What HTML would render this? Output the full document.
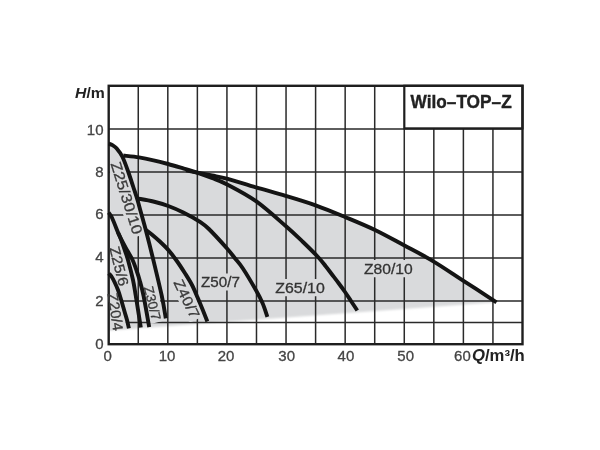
<!DOCTYPE html>
<html lang="en"><head><meta charset="utf-8"><title>Wilo-TOP-Z</title>
<style>html,body{margin:0;padding:0;background:#fff}body{width:600px;height:450px;overflow:hidden}svg{display:block;filter:blur(0.45px)}text{font-family:"Liberation Sans",sans-serif}</style>
</head><body>
<svg width="600" height="450" viewBox="0 0 600 450">
<rect width="600" height="450" fill="#fff"/>
<filter id="bl" x="-5%" y="-5%" width="110%" height="110%"><feGaussianBlur stdDeviation="0.9"/></filter>
<path d="M108.70 143.60 C109.33 143.87 111.20 144.42 112.50 145.20 C113.80 145.98 114.83 146.33 116.50 148.30 C118.17 150.27 121.37 155.80 122.50 157.00 C123.63 158.20 123.17 155.75 123.30 155.50 C125.92 155.82 133.97 156.60 139.00 157.40 C144.03 158.20 148.67 159.20 153.50 160.30 C158.33 161.40 163.17 162.68 168.00 164.00 C172.83 165.32 177.67 166.77 182.50 168.20 C187.33 169.63 192.08 171.38 197.00 172.60 C201.92 173.82 206.87 174.47 212.00 175.50 C217.13 176.53 220.47 176.82 227.80 178.80 C235.13 180.78 246.37 184.57 256.00 187.40 C265.63 190.23 275.67 192.82 285.60 195.80 C295.53 198.78 305.70 201.77 315.60 205.30 C325.50 208.83 335.10 212.88 345.00 217.00 C354.90 221.12 365.17 225.28 375.00 230.00 C384.83 234.72 394.28 240.08 404.00 245.30 C413.72 250.52 423.52 255.47 433.30 261.30 C443.08 267.13 452.17 273.47 462.70 280.30 C473.23 287.13 490.87 298.63 496.50 302.30 L108.7 330.4 Z" fill="#d9dadc" filter="url(#bl)"/>
<path d="M138.26 86.0 V344 M167.81 86.0 V344 M197.37 86.0 V344 M226.93 86.0 V344 M256.49 86.0 V344 M286.04 86.0 V344 M315.60 86.0 V344 M345.16 86.0 V344 M374.71 86.0 V344 M404.27 129.0 V344 M433.83 129.0 V344 M463.39 129.0 V344 M492.94 129.0 V344 M108.7 322.50 H522.5 M108.7 301.00 H522.5 M108.7 258.00 H522.5 M108.7 215.00 H522.5 M108.7 172.00 H522.5 M108.7 129.00 H522.5" stroke="#2a2a2a" stroke-width="1.5" fill="none"/>
<rect x="404.3" y="85.8" width="118.2" height="42.6" fill="#fff" stroke="#1e1e1e" stroke-width="2.2"/>
<clipPath id="pc"><path d="M108.70 143.60 C109.33 143.87 111.20 144.42 112.50 145.20 C113.80 145.98 114.83 146.33 116.50 148.30 C118.17 150.27 121.37 155.80 122.50 157.00 C123.63 158.20 123.17 155.75 123.30 155.50 C125.92 155.82 133.97 156.60 139.00 157.40 C144.03 158.20 148.67 159.20 153.50 160.30 C158.33 161.40 163.17 162.68 168.00 164.00 C172.83 165.32 177.67 166.77 182.50 168.20 C187.33 169.63 192.08 171.38 197.00 172.60 C201.92 173.82 206.87 174.47 212.00 175.50 C217.13 176.53 220.47 176.82 227.80 178.80 C235.13 180.78 246.37 184.57 256.00 187.40 C265.63 190.23 275.67 192.82 285.60 195.80 C295.53 198.78 305.70 201.77 315.60 205.30 C325.50 208.83 335.10 212.88 345.00 217.00 C354.90 221.12 365.17 225.28 375.00 230.00 C384.83 234.72 394.28 240.08 404.00 245.30 C413.72 250.52 423.52 255.47 433.30 261.30 C443.08 267.13 452.17 273.47 462.70 280.30 C473.23 287.13 490.87 298.63 496.50 302.30 L108.7 330.4 Z"/></clipPath><g clip-path="url(#pc)">
<rect transform="translate(110.41 163.75) rotate(72.4)" x="-2.5" y="-13.8" width="80.0" height="17.0" rx="3.5" fill="#d9dadc"/>
<rect transform="translate(109.17 248.06) rotate(75.4)" x="-2.5" y="-13.6" width="45.2" height="16.8" rx="3.5" fill="#d9dadc"/>
<rect transform="translate(107.46 293.82) rotate(81.0)" x="-2.5" y="-13.6" width="43.1" height="16.8" rx="3.5" fill="#d9dadc"/>
<rect transform="translate(143.65 287.42) rotate(76.2)" x="-2.5" y="-12.8" width="39.7" height="16.0" rx="3.5" fill="#d9dadc"/>
<rect transform="translate(173.19 282.55) rotate(64.2)" x="-2.5" y="-13.6" width="46.0" height="16.8" rx="3.5" fill="#d9dadc"/>
<rect transform="translate(201.10 287.40) rotate(0.0)" x="-2.5" y="-13.9" width="43.8" height="17.1" rx="3.5" fill="#d9dadc"/>
<rect transform="translate(275.30 293.00) rotate(0.0)" x="-2.5" y="-13.9" width="54.5" height="17.1" rx="3.5" fill="#d9dadc"/>
<rect transform="translate(364.00 274.00) rotate(0.0)" x="-2.5" y="-13.9" width="53.7" height="17.1" rx="3.5" fill="#d9dadc"/>
</g>
<rect x="108.7" y="85.8" width="413.8" height="258.4" fill="none" stroke="#1e1e1e" stroke-width="2.4"/>
<path d="M108.70 143.60 C109.33 143.87 111.20 144.42 112.50 145.20 C113.80 145.98 114.83 146.33 116.50 148.30 C118.17 150.27 120.53 153.05 122.50 157.00 C124.47 160.95 126.50 167.00 128.30 172.00 C130.10 177.00 131.77 182.33 133.30 187.00 C134.83 191.67 136.25 195.83 137.50 200.00 C138.75 204.17 139.33 206.67 140.80 212.00 C142.27 217.33 144.33 224.50 146.30 232.00 C148.27 239.50 150.02 246.33 152.60 257.00 C155.18 267.67 159.60 285.77 161.80 296.00 C164.00 306.23 165.13 314.67 165.80 318.40" fill="none" stroke="#141414" stroke-width="3.9" stroke-linecap="butt" stroke-linejoin="round"/>
<path d="M186.00 170.40 C187.93 170.78 193.27 171.85 197.60 172.70 C201.93 173.55 206.97 174.48 212.00 175.50 C217.03 176.52 220.47 176.82 227.80 178.80 C235.13 180.78 246.37 184.57 256.00 187.40 C265.63 190.23 275.67 192.82 285.60 195.80 C295.53 198.78 305.70 201.77 315.60 205.30 C325.50 208.83 335.10 212.88 345.00 217.00 C354.90 221.12 365.17 225.28 375.00 230.00 C384.83 234.72 394.28 240.08 404.00 245.30 C413.72 250.52 423.52 255.47 433.30 261.30 C443.08 267.13 452.17 273.47 462.70 280.30 C473.23 287.13 490.87 298.63 496.50 302.30" fill="none" stroke="#141414" stroke-width="3.9" stroke-linecap="butt" stroke-linejoin="round"/>
<path d="M123.30 155.50 C125.92 155.82 133.97 156.60 139.00 157.40 C144.03 158.20 148.67 159.20 153.50 160.30 C158.33 161.40 163.17 162.68 168.00 164.00 C172.83 165.32 177.67 166.77 182.50 168.20 C187.33 169.63 192.12 170.97 197.00 172.60 C201.88 174.23 206.87 176.07 211.80 178.00 C216.73 179.93 219.23 180.33 226.60 184.20 C233.97 188.07 246.10 194.18 256.00 201.20 C265.90 208.22 278.17 219.50 286.00 226.30 C293.83 233.10 297.67 236.88 303.00 242.00 C308.33 247.12 314.25 253.00 318.00 257.00 C321.75 261.00 323.17 263.08 325.50 266.00 C327.83 268.92 329.83 271.67 332.00 274.50 C334.17 277.33 336.38 280.17 338.50 283.00 C340.62 285.83 342.62 288.50 344.70 291.50 C346.78 294.50 348.90 297.83 351.00 301.00 C353.10 304.17 356.25 308.92 357.30 310.50" fill="none" stroke="#141414" stroke-width="3.9" stroke-linecap="butt" stroke-linejoin="round"/>
<path d="M137.50 198.50 C140.13 199.00 148.17 200.25 153.30 201.50 C158.43 202.75 163.30 204.17 168.30 206.00 C173.30 207.83 178.02 209.87 183.30 212.50 C188.58 215.13 195.73 219.05 200.00 221.80 C204.27 224.55 204.47 224.63 208.90 229.00 C213.33 233.37 222.30 243.17 226.60 248.00 C230.90 252.83 231.98 254.58 234.70 258.00 C237.42 261.42 239.35 263.12 242.90 268.50 C246.45 273.88 252.73 284.55 256.00 290.30 C259.27 296.05 260.60 298.58 262.50 303.00 C264.40 307.42 266.58 314.50 267.40 316.80" fill="none" stroke="#141414" stroke-width="3.9" stroke-linecap="butt" stroke-linejoin="round"/>
<path d="M146.00 230.00 C147.17 230.92 150.60 233.50 153.00 235.50 C155.40 237.50 157.90 239.65 160.40 242.00 C162.90 244.35 165.32 246.52 168.00 249.60 C170.68 252.68 173.67 256.55 176.50 260.50 C179.33 264.45 182.42 269.22 185.00 273.30 C187.58 277.38 189.90 280.97 192.00 285.00 C194.10 289.03 195.77 293.25 197.60 297.50 C199.43 301.75 201.38 306.50 203.00 310.50 C204.62 314.50 206.58 319.67 207.30 321.50" fill="none" stroke="#141414" stroke-width="3.9" stroke-linecap="butt" stroke-linejoin="round"/>
<path d="M108.70 212.60 C109.25 213.47 110.45 214.48 112.00 217.80 C113.55 221.12 116.40 228.63 118.00 232.50 C119.60 236.37 120.43 237.92 121.60 241.00 C122.77 244.08 123.93 247.83 125.00 251.00 C126.07 254.17 126.67 255.17 128.00 260.00 C129.33 264.83 131.70 274.00 133.00 280.00 C134.30 286.00 134.50 288.08 135.80 296.00 C137.10 303.92 139.97 322.25 140.80 327.50" fill="none" stroke="#141414" stroke-width="3.9" stroke-linecap="butt" stroke-linejoin="round"/>
<path d="M118.00 232.50 C118.77 234.08 121.00 238.92 122.60 242.00 C124.20 245.08 125.93 248.00 127.60 251.00 C129.27 254.00 131.13 256.83 132.60 260.00 C134.07 263.17 135.23 266.67 136.40 270.00 C137.57 273.33 138.40 275.67 139.60 280.00 C140.80 284.33 142.00 288.13 143.60 296.00 C145.20 303.87 148.27 322.00 149.20 327.20" fill="none" stroke="#141414" stroke-width="3.9" stroke-linecap="butt" stroke-linejoin="round"/>
<path d="M108.70 273.50 C109.17 274.00 110.53 275.08 111.50 276.50 C112.47 277.92 113.42 279.75 114.50 282.00 C115.58 284.25 116.88 287.00 118.00 290.00 C119.12 293.00 120.10 296.37 121.20 300.00 C122.30 303.63 123.63 308.47 124.60 311.80 C125.57 315.13 126.28 317.23 127.00 320.00 C127.72 322.77 128.58 327.00 128.90 328.40" fill="none" stroke="#141414" stroke-width="3.9" stroke-linecap="butt" stroke-linejoin="round"/>
<text transform="translate(110.41 163.75) rotate(72.4)" font-size="14.8" fill="#3a3a3a" stroke="#3a3a3a" stroke-width="0.3"  textLength="75.0" lengthAdjust="spacingAndGlyphs">Z25/30/10</text>
<text transform="translate(109.17 248.06) rotate(75.4)" font-size="14.5" fill="#3a3a3a" stroke="#3a3a3a" stroke-width="0.3"  textLength="40.2" lengthAdjust="spacingAndGlyphs">Z25/6</text>
<text transform="translate(107.46 293.82) rotate(81.0)" font-size="14.5" fill="#3a3a3a" stroke="#3a3a3a" stroke-width="0.3"  textLength="38.1" lengthAdjust="spacingAndGlyphs">Z20/4</text>
<text transform="translate(143.65 287.42) rotate(76.2)" font-size="13.4" fill="#3a3a3a" stroke="#3a3a3a" stroke-width="0.3"  textLength="34.7" lengthAdjust="spacingAndGlyphs">Z30/7</text>
<text transform="translate(173.19 282.55) rotate(64.2)" font-size="14.5" fill="#3a3a3a" stroke="#3a3a3a" stroke-width="0.3"  textLength="41.0" lengthAdjust="spacingAndGlyphs">Z40/7</text>
<text x="201.1" y="287.4" font-size="15.0" fill="#333" stroke="#333" stroke-width="0.3"  textLength="38.8" lengthAdjust="spacingAndGlyphs">Z50/7</text>
<text x="275.3" y="293.0" font-size="15.0" fill="#333" stroke="#333" stroke-width="0.3"  textLength="49.5" lengthAdjust="spacingAndGlyphs">Z65/10</text>
<text x="364.0" y="274.0" font-size="15.0" fill="#333" stroke="#333" stroke-width="0.3"  textLength="48.7" lengthAdjust="spacingAndGlyphs">Z80/10</text>
<text stroke="#222" stroke-width="0.4" x="410.5" y="108.1" font-size="19.0" fill="#222"   textLength="101.2" lengthAdjust="spacingAndGlyphs" font-weight="bold">Wilo–TOP–Z</text>
<text x="75.1" y="98" font-size="15.2" font-weight="bold" fill="#222"  textLength="29.8" lengthAdjust="spacingAndGlyphs"><tspan font-style="italic">H</tspan>/m</text>
<text x="103.5" y="348.8" font-size="15.0" fill="#444" stroke="#444" stroke-width="0.3"  text-anchor="end">0</text>
<text x="103.5" y="306.3" font-size="15.0" fill="#444" stroke="#444" stroke-width="0.3"  text-anchor="end">2</text>
<text x="103.5" y="262.3" font-size="15.0" fill="#444" stroke="#444" stroke-width="0.3"  text-anchor="end">4</text>
<text x="103.5" y="219.0" font-size="15.0" fill="#444" stroke="#444" stroke-width="0.3"  text-anchor="end">6</text>
<text x="103.5" y="176.6" font-size="15.0" fill="#444" stroke="#444" stroke-width="0.3"  text-anchor="end">8</text>
<text x="103.5" y="134.9" font-size="15.0" fill="#444" stroke="#444" stroke-width="0.3"  text-anchor="end">10</text>
<text x="107.6" y="360.5" font-size="15.0" fill="#444" stroke="#444" stroke-width="0.3"  text-anchor="middle">0</text>
<text x="167.1" y="360.5" font-size="15.0" fill="#444" stroke="#444" stroke-width="0.3"  text-anchor="middle">10</text>
<text x="226.0" y="360.5" font-size="15.0" fill="#444" stroke="#444" stroke-width="0.3"  text-anchor="middle">20</text>
<text x="286.7" y="360.5" font-size="15.0" fill="#444" stroke="#444" stroke-width="0.3"  text-anchor="middle">30</text>
<text x="345.9" y="360.5" font-size="15.0" fill="#444" stroke="#444" stroke-width="0.3"  text-anchor="middle">40</text>
<text x="405.7" y="360.5" font-size="15.0" fill="#444" stroke="#444" stroke-width="0.3"  text-anchor="middle">50</text>
<text x="454.1" y="360.5" font-size="15.0" fill="#444" stroke="#444" stroke-width="0.3"  textLength="16.6" lengthAdjust="spacingAndGlyphs">60</text>
<text x="472" y="361.0" font-size="15.6" font-weight="bold" fill="#222"  textLength="52.8" lengthAdjust="spacingAndGlyphs"><tspan font-style="italic">Q</tspan>/m³/h</text>
</svg>
</body></html>
